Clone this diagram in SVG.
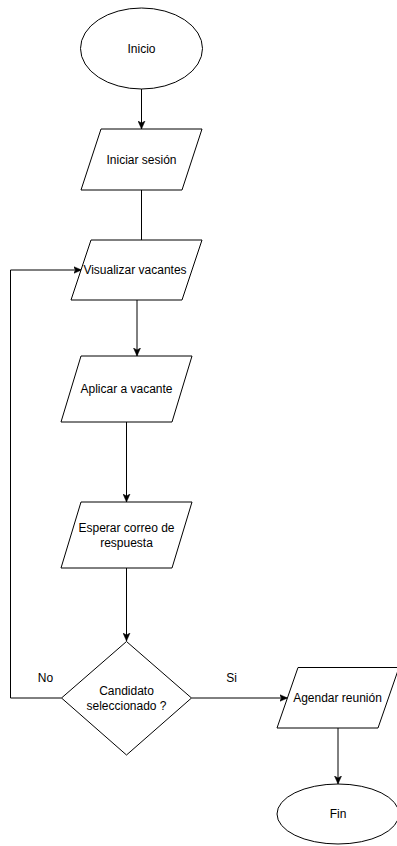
<svg xmlns="http://www.w3.org/2000/svg" width="397" height="846" viewBox="0 0 397 846">
<style>
.shape{fill:#fff;stroke:#000;stroke-width:1}
.edge{fill:none;stroke:#000;stroke-width:1}
text{font-family:"Liberation Sans",Arial,Helvetica,sans-serif;font-size:12px;fill:#000;text-anchor:middle;dominant-baseline:central}
</style>
<defs>
<marker id="arrow" markerUnits="userSpaceOnUse" markerWidth="9" markerHeight="8" refX="8" refY="4" orient="auto">
<path d="M0,0.5 L8,4 L0,7.5 L2,4 Z" fill="#000" stroke="#000" stroke-width="0.5"/>
</marker>
</defs>
<rect width="397" height="846" fill="#fff"/>
<g id="connectors">
<path class="edge" d="M141.5,89 L141.5,129" marker-end="url(#arrow)"/>
<path class="edge" d="M141.5,190 L141.5,240"/>
<path class="edge" d="M137,300 L137,356" marker-end="url(#arrow)"/>
<path class="edge" d="M126.5,422 L126.5,502" marker-end="url(#arrow)"/>
<path class="edge" d="M126.5,568 L126.5,641" marker-end="url(#arrow)"/>
<path class="edge" d="M61.5,698 L10.5,698 L10.5,270 L81.5,270" marker-end="url(#arrow)"/>
<path class="edge" d="M191.5,698 L287.5,698" marker-end="url(#arrow)"/>
<path class="edge" d="M338,728 L338,784" marker-end="url(#arrow)"/>
<text x="45.5" y="677.5">No</text>
<text x="231.5" y="677.5">Si</text>
</g>
<g id="inicio">
<ellipse class="shape" cx="141.5" cy="48.5" rx="61" ry="40.5"/>
<text x="141.5" y="48.5">Inicio</text>
</g>
<g id="iniciar-sesion">
<polygon class="shape" points="101,129 202,129 182,190 81,190"/>
<text x="141.5" y="159.5">Iniciar sesión</text>
</g>
<g id="visualizar-vacantes">
<polygon class="shape" points="91,240 202,240 182,300 71,300"/>
<text x="135" y="270">Visualizar vacantes</text>
</g>
<g id="aplicar-vacante">
<polygon class="shape" points="81,356 192,356 172,422 61,422"/>
<text x="126.5" y="389">Aplicar a vacante</text>
</g>
<g id="esperar-correo">
<polygon class="shape" points="81,502 192,502 172,568 61,568"/>
<text x="126.5" y="528">Esperar correo de</text>
<text x="126.5" y="543">respuesta</text>
</g>
<g id="candidato-seleccionado">
<polygon class="shape" points="126.5,641.5 191.5,698 126.5,755 61.5,698"/>
<text x="126.5" y="690.5">Candidato</text>
<text x="126.5" y="706">seleccionado ?</text>
</g>
<g id="agendar-reunion">
<polygon class="shape" points="298,667.5 399,667.5 378,728 277,728"/>
<text x="337.5" y="698">Agendar reunión</text>
</g>
<g id="fin">
<ellipse class="shape" cx="338" cy="814" rx="61" ry="30"/>
<text x="338" y="814">Fin</text>
</g>
</svg>
